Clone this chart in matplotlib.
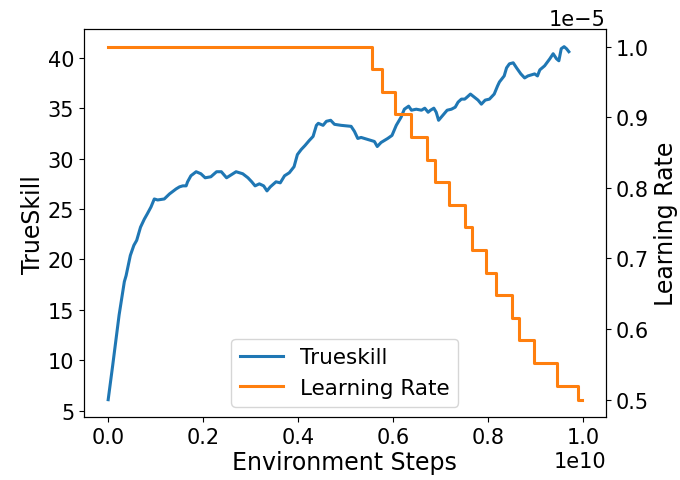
import numpy as np
import matplotlib.pyplot as plt

# trueskill curve (x in units of 1e10 env steps)
ts_steps = [0.001, 0.0105, 0.024, 0.035, 0.0387, 0.0476, 0.055, 0.061, 0.069, 0.077,
            0.083, 0.091, 0.098, 0.105, 0.119, 0.130, 0.144, 0.151, 0.158, 0.165,
            0.168, 0.175, 0.186, 0.196, 0.205, 0.217, 0.229, 0.239, 0.250, 0.260,
            0.270, 0.284, 0.295, 0.303, 0.310, 0.319, 0.328, 0.335, 0.342, 0.354,
            0.363, 0.372, 0.382, 0.392, 0.399, 0.407, 0.415, 0.424, 0.432, 0.439,
            0.443, 0.453, 0.460, 0.469, 0.477, 0.491, 0.512, 0.519, 0.526, 0.533,
            0.561, 0.567, 0.575, 0.589, 0.598, 0.607, 0.617, 0.624, 0.633, 0.639,
            0.649, 0.660, 0.667, 0.674, 0.679, 0.686, 0.691, 0.696, 0.705, 0.714,
            0.723, 0.731, 0.737, 0.744, 0.751, 0.756, 0.763, 0.771, 0.779, 0.786,
            0.794, 0.803, 0.813, 0.820, 0.824, 0.834, 0.839, 0.845, 0.853, 0.860,
            0.869, 0.877, 0.884, 0.891, 0.898, 0.904, 0.909, 0.919, 0.930, 0.937,
            0.944, 0.949, 0.954, 0.960, 0.965, 0.970]
trueskill = [6.1, 9.5, 14.5, 17.8, 18.4, 20.4, 21.4, 21.9, 23.2, 24.0,
             24.5, 25.2, 26.0, 25.9, 26.0, 26.5, 27.0, 27.2, 27.3, 27.3,
             27.7, 28.3, 28.7, 28.5, 28.1, 28.2, 28.7, 28.7, 28.1, 28.4,
             28.7, 28.5, 28.1, 27.7, 27.3, 27.5, 27.3, 26.8, 27.2, 27.7,
             27.6, 28.3, 28.6, 29.2, 30.4, 30.9, 31.3, 31.8, 32.2, 33.3,
             33.5, 33.3, 33.7, 33.8, 33.4, 33.3, 33.2, 32.7, 32.0, 32.1,
             31.7, 31.2, 31.6, 32.0, 32.3, 33.3, 34.1, 34.9, 35.2, 34.8,
             34.9, 34.8, 35.0, 34.6, 34.8, 35.0, 34.6, 33.8, 34.3, 34.8,
             34.9, 35.1, 35.6, 35.9, 35.9, 36.1, 36.4, 36.1, 35.8, 35.4,
             35.8, 35.9, 36.4, 37.2, 37.6, 38.2, 39.0, 39.4, 39.5, 39.0,
             38.4, 38.0, 38.2, 38.3, 38.4, 38.2, 38.8, 39.2, 39.9, 40.4,
             39.9, 39.7, 40.9, 41.1, 40.9, 40.6]

# learning rate schedule (in units of 1e-5)
lr_steps = [0.0, 0.556, 0.576, 0.604, 0.639, 0.672, 0.688, 0.718, 0.752, 0.767,
            0.796, 0.817, 0.851, 0.865, 0.896, 0.946, 0.989, 0.998]
lr = [1.0, 0.968, 0.936, 0.904, 0.872, 0.840, 0.808, 0.776, 0.744, 0.712,
      0.680, 0.648, 0.616, 0.584, 0.552, 0.520, 0.500, 0.500]

plt.rcParams['font.size'] = 15

fig, ax = plt.subplots(figsize=(6.8, 4.81), dpi=100)
fig.subplots_adjust(left=0.1235, right=0.891, top=0.9376, bottom=0.1303)

l1, = ax.plot(np.array(ts_steps) * 1e10, trueskill, color='tab:blue', lw=2.2, label='Trueskill')
ax.set_xlabel('Environment Steps', fontsize=17, labelpad=2)
ax.set_ylabel('TrueSkill', fontsize=17, labelpad=2)

ax2 = ax.twinx()
l2, = ax2.step(np.array(lr_steps) * 1e10, np.array(lr) * 1e-5, where='post',
               color='tab:orange', lw=2.2, label='Learning Rate')
ax2.set_ylabel('Learning Rate', fontsize=17, labelpad=4)

ax.tick_params(labelsize=15)
ax2.tick_params(labelsize=15)
ax.xaxis.get_offset_text().set_fontsize(15)
ax2.yaxis.get_offset_text().set_fontsize(15)

ax.legend([l1, l2], ['Trueskill', 'Learning Rate'], loc='lower center', fontsize=15.5)

fig.savefig('out.png')
